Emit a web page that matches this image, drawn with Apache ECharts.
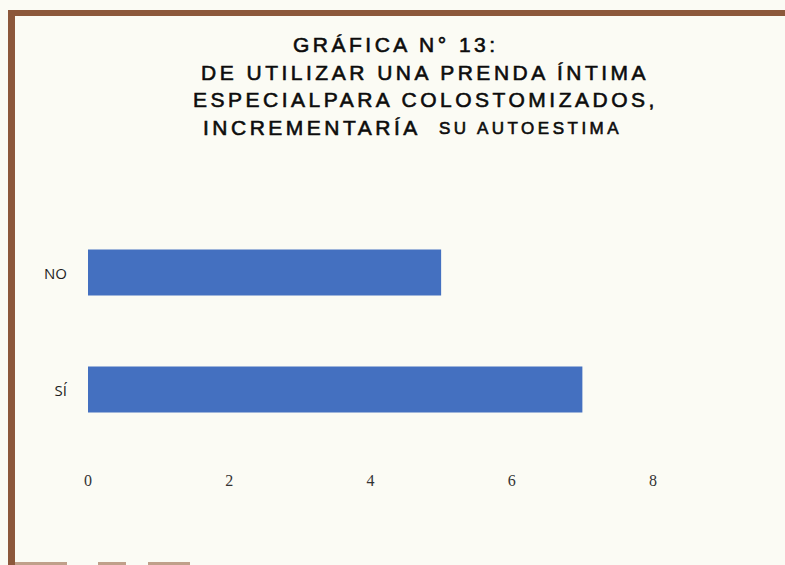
<!DOCTYPE html>
<html>
<head>
<meta charset="utf-8">
<script src="https://cdn.jsdelivr.net/npm/echarts@6.0.0/dist/echarts.min.js"></script>
<style>
  html, body { margin: 0; padding: 0; background: #fbfbf4; }
  #chart { width: 785px; height: 565px; }
  /* the scanned title is set with wide letter spacing */
  #chart svg text[style*="21px"], #chart svg text[style*="17px"] { letter-spacing: 3.5px; }
</style>
</head>
<body>
<div id="chart"></div>
<script>
// categories, bottom to top as they appear on the y axis
const categories = ['SÍ', 'NO'];
// number of answers per category
const values = [7, 5];
// x axis ticks
const xTicks = [0, 2, 4, 6, 8];

const titleLines = [
  'GRÁFICA N° 13:',
  'DE UTILIZAR UNA PRENDA ÍNTIMA',
  'ESPECIALPARA COLOSTOMIZADOS,',
  'INCREMENTARÍA',
  'SU AUTOESTIMA'
];

const chart = echarts.init(document.getElementById('chart'), null, { renderer: 'svg' });

const titleFont = {
  fontFamily: 'Liberation Sans, Arial, sans-serif',
  fontSize: 21,
  fontWeight: 'normal',
  color: '#0c0c0c',
  textBorderColor: '#0c0c0c',
  textBorderWidth: 0.6,
  lineHeight: 22
};
const smallFont = Object.assign({}, titleFont, { fontSize: 17 });

const option = {
  backgroundColor: '#fbfbf4',
  animation: false,
  title: [
    { text: titleLines[0], left: 293, top: 33, padding: 0, textStyle: titleFont },
    { text: titleLines[1], left: 201, top: 61, padding: 0, textStyle: titleFont },
    { text: titleLines[2], left: 193, top: 88, padding: 0, textStyle: titleFont },
    { text: titleLines[3], left: 203, top: 116, padding: 0, textStyle: titleFont },
    { text: titleLines[4], left: 439, top: 117.5, padding: 0, textStyle: smallFont }
  ],
  grid: {
    left: 88,
    right: 132,
    top: 214,
    bottom: 117,
    containLabel: false
  },
  xAxis: {
    type: 'value',
    min: xTicks[0],
    max: xTicks[xTicks.length - 1],
    interval: 2,
    axisLine: { show: false },
    axisTick: { show: false },
    splitLine: { show: false },
    axisLabel: {
      margin: 24,
      color: '#333',
      fontFamily: 'Liberation Serif, serif',
      fontSize: 16
    }
  },
  yAxis: {
    type: 'category',
    data: categories,
    axisLine: { show: false },
    axisTick: { show: false },
    splitLine: { show: false },
    axisLabel: {
      margin: 21,
      color: '#1e1e1e',
      fontFamily: 'Open Sans, sans-serif',
      fontSize: 15
    }
  },
  series: [
    {
      type: 'bar',
      data: values,
      barWidth: 46,
      itemStyle: { color: '#4470c0' }
    }
  ],
  graphic: [
    // brown frame of the scanned page
    { type: 'rect', shape: { x: 8, y: 10, width: 790, height: 6 }, style: { fill: '#8c583b' } },
    { type: 'rect', shape: { x: 8, y: 10, width: 7, height: 560 }, style: { fill: '#8c583b' } },
    { type: 'rect', shape: { x: 15, y: 562, width: 52, height: 3 }, style: { fill: '#c0a08a' } },
    { type: 'rect', shape: { x: 98, y: 562, width: 28, height: 3 }, style: { fill: '#c0a08a' } },
    { type: 'rect', shape: { x: 148, y: 562, width: 42, height: 3 }, style: { fill: '#c0a08a' } }
  ]
};

chart.setOption(option);
</script>
</body>
</html>
